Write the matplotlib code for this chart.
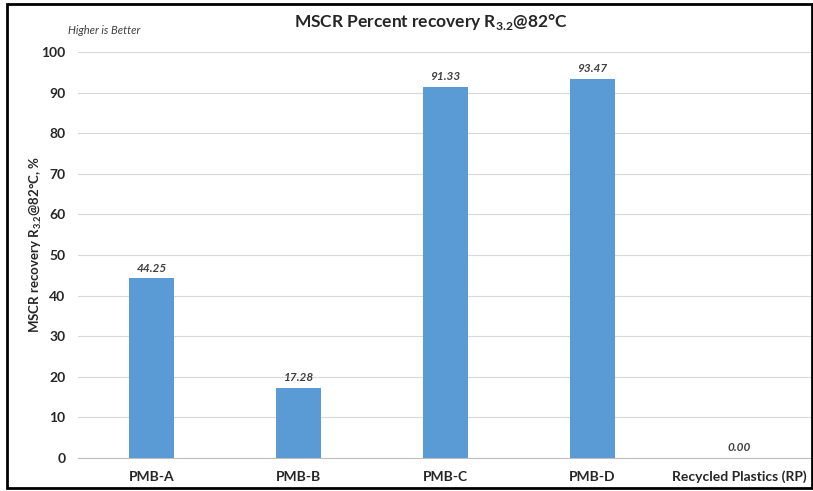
import matplotlib.pyplot as plt
from matplotlib.patches import Rectangle

plt.rcParams['font.family'] = ['Lato', 'DejaVu Sans']

categories = ['PMB-A', 'PMB-B', 'PMB-C', 'PMB-D', 'Recycled Plastics (RP)']
values = [44.25, 17.28, 91.33, 93.47, 0.00]
yticks = [0, 10, 20, 30, 40, 50, 60, 70, 80, 90, 100]

fig = plt.figure(figsize=(8.13, 4.91), dpi=100)
ax = fig.add_axes([0.096, 0.067, 0.904, 0.827])

x = range(len(categories))
ax.bar(x, values, width=0.31, color='#5B9BD5', zorder=3)
for xi, v in zip(x, values):
    ax.text(xi, v + 1.2, f'{v:.2f}', ha='center', va='bottom', fontsize=8.5,
            fontstyle='italic', fontweight='bold', color='#404040')

ax.set_xlim(-0.5, len(categories) - 0.5)
ax.set_ylim(0, 100)
ax.set_yticks(yticks)
ax.set_xticks(list(x))
ax.set_xticklabels(categories, fontsize=10, fontweight='bold', color='#262626')
ax.tick_params(axis='y', labelsize=10, length=0, pad=9, labelcolor='#262626')
ax.tick_params(axis='x', length=0, pad=9)
for t in ax.get_yticklabels():
    t.set_fontweight('bold')
ax.grid(axis='y', color='#D9D9D9', linewidth=0.8, zorder=0)
for s in ['top', 'right', 'left']:
    ax.spines[s].set_visible(False)
ax.spines['bottom'].set_color('#BFBFBF')

ax.set_ylabel(r'MSCR recovery R$_{\mathregular{3.2}}$@82°C, %', fontsize=9.5,
              fontweight='bold', color='#262626')
ax.yaxis.set_label_coords(-0.047, 0.525)
fig.text(0.53, 0.955, r'MSCR Percent recovery R$_{\mathregular{3.2}}$@82°C',
         ha='center', va='center', fontsize=12.5, fontweight='bold', color='#262626')
fig.text(0.084, 0.938, 'Higher is Better', ha='left', va='center', fontsize=8,
         fontstyle='italic', color='#404040')

fig.patches.append(Rectangle((0.009, 0.006), 0.99, 0.986, transform=fig.transFigure,
                             fill=False, edgecolor='black', linewidth=2))

fig.savefig('out.png', dpi=100)
